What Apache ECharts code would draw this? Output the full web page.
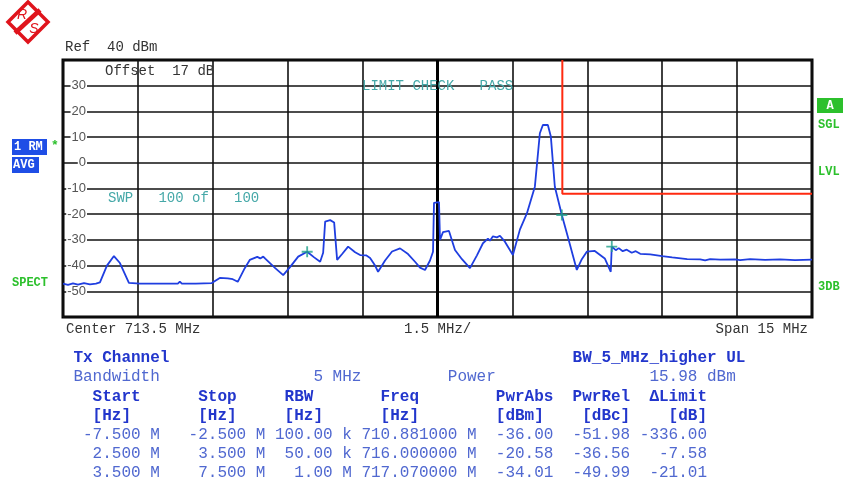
<!DOCTYPE html>
<html>
<head>
<meta charset="utf-8">
<script src="https://cdn.jsdelivr.net/npm/echarts@6/dist/echarts.min.js"></script>
<style>
  html, body { margin: 0; padding: 0; background: #fff; }
  #main { width: 845px; height: 484px; }
</style>
</head>
<body>
<div id="main"></div>
<script>
// trace: offset from center (MHz) and level (dBm)
const freqOffset = [
  -7.50, -7.40, -7.30, -7.20, -7.08, -6.96, -6.84, -6.76, -6.62, -6.48, -6.36, -6.18,
  -5.96, -5.76, -5.72, -5.68, -5.46, -5.42, -5.38, -5.20, -5.16, -5.12, -4.92, -4.88,
  -4.84, -4.52, -4.36, -4.20, -4.10, -4.00, -3.86, -3.76, -3.61, -3.55, -3.49, -3.45,
  -3.41, -3.25, -3.09, -2.95, -2.79, -2.61, -2.47, -2.35, -2.29, -2.25, -2.15, -2.07,
  -2.01, -1.91, -1.79, -1.65, -1.55, -1.43, -1.35, -1.25, -1.19, -1.05, -0.91, -0.75,
  -0.59, -0.45, -0.35, -0.25, -0.15, -0.09, -0.07, 0.03, 0.05, 0.11, 0.23, 0.35,
  0.49, 0.65, 0.79, 0.91, 1.01, 1.05, 1.11, 1.19, 1.25, 1.35, 1.51, 1.65,
  1.79, 1.95, 2.05, 2.11, 2.21, 2.27, 2.35, 2.49, 2.61, 2.71, 2.79, 2.89,
  2.99, 3.15, 3.35, 3.47, 3.49, 3.57, 3.63, 3.71, 3.79, 3.89, 3.97, 4.06,
  4.26, 4.50, 4.70, 5.00, 5.26, 5.36, 5.46, 5.66, 5.96, 6.06, 6.26, 6.56,
  6.86, 7.16, 7.50
]
const level = [
  -47.0, -47.5, -46.9, -47.4, -46.8, -47.3, -47.0, -46.5, -40.0, -36.3, -39.0, -46.7,
  -47.0, -47.0, -47.6, -47.0, -47.0, -47.6, -47.0, -47.0, -46.2, -47.0, -47.0, -47.5,
  -47.0, -46.8, -44.8, -45.0, -45.3, -46.3, -41.0, -37.8, -36.6, -37.2, -36.5, -37.3,
  -37.5, -41.0, -43.7, -40.5, -36.5, -34.6, -36.8, -38.5, -35.0, -22.9, -22.3, -23.2,
  -37.8, -35.5, -32.6, -34.8, -35.9, -36.0, -37.0, -40.0, -42.4, -38.0, -34.5, -33.3,
  -35.5, -38.5, -40.8, -41.7, -38.0, -34.6, -15.6, -15.3, -30.0, -27.0, -26.5, -33.9,
  -37.5, -41.0, -36.0, -31.3, -29.5, -30.3, -28.6, -29.0, -28.4, -30.7, -35.9, -26.0,
  -19.7, -9.3, 11.5, 14.7, 14.7, 10.2, -9.3, -20.3, -28.8, -36.0, -41.7, -37.5,
  -34.6, -34.3, -37.2, -42.4, -32.6, -34.0, -33.2, -34.4, -33.8, -35.0, -34.4, -35.4,
  -35.6, -36.3, -36.8, -37.5, -37.6, -38.0, -37.5, -37.7, -37.6, -37.9, -37.5, -37.8,
  -37.6, -37.9, -37.7
]

// markers (+)
const markerFreq = [-2.61, 2.49, 3.49]
const markerLevel = [-34.6, -20.3, -32.6]

// limit line
const limitFreq = [2.5, 2.5, 7.5]
const limitLevel = [40, -12, -12]

// table below the diagram
const tableStart = ['-7.500 M', '2.500 M', '3.500 M']
const tableStop = ['-2.500 M', '3.500 M', '7.500 M']
const tableRbw = ['100.00 k', '50.00 k', '1.00 M']
const tableFreq = ['710.881000 M', '716.000000 M', '717.070000 M']
const tablePwrAbs = ['-36.00', '-20.58', '-34.01']
const tablePwrRel = ['-51.98', '-36.56', '-49.99']
const tableLimit = ['-336.00', '-7.58', '-21.01']

const MONO = '"Liberation Mono", "DejaVu Sans Mono", monospace'
const CW = 9.6 // char width of 16px mono
const X0 = 83

function txt(x, y, s, fill, size, bold, align) {
  return {
    type: 'text',
    x: x,
    y: y,
    z: 10,
    style: {
      text: s,
      fill: fill,
      font: (bold ? 'bold ' : '') + size + 'px ' + MONO,
      textAlign: align || 'left',
      textVerticalAlign: 'middle',
      align: align || 'left',
      verticalAlign: 'middle'
    }
  }
}

function col(c) {
  return X0 + c * CW
}

let myChart = echarts.init(document.getElementById('main'))

const HEAD = '#2236cc'
const BODY = '#5068d0'
const TEAL = '#45a8a8'
const GREEN = '#2cc02c'
const RS_RED = '#e0141c'

let graphics = [
  // R&S logo
  {
    type: 'polygon',
    shape: { points: [[28, 2], [48, 22], [28, 42], [8, 22]] },
    style: { fill: '#fff', stroke: RS_RED, lineWidth: 3.5 }
  },
  {
    type: 'line',
    shape: { x1: 15, y1: 33, x2: 40, y2: 10 },
    style: { stroke: RS_RED, lineWidth: 4.5 }
  },
  {
    type: 'text', x: 22, y: 15,
    style: { text: 'R', fill: RS_RED, font: 'italic 14px "Liberation Sans", sans-serif', textAlign: 'center', textVerticalAlign: 'middle', align: 'center', verticalAlign: 'middle' }
  },
  {
    type: 'text', x: 34, y: 29,
    style: { text: 'S', fill: RS_RED, font: 'italic 14px "Liberation Sans", sans-serif', textAlign: 'center', textVerticalAlign: 'middle', align: 'center', verticalAlign: 'middle' }
  },

  txt(65, 47, 'Ref  40 dBm', '#333', 14),
  txt(105, 71, 'Offset  17 dB', '#333', 14),
  txt(362, 86, 'LIMIT CHECK   PASS', TEAL, 14),
  txt(108, 198, 'SWP   100 of   100', TEAL, 14),

  // left side trace info
  { type: 'rect', shape: { x: 12, y: 139, width: 35, height: 16 }, style: { fill: '#1f4ee6' } },
  txt(14, 147, '1 RM', '#fff', 12, true),
  { type: 'rect', shape: { x: 12, y: 157, width: 27, height: 16 }, style: { fill: '#1f4ee6' } },
  txt(13, 165, 'AVG', '#fff', 12, true),
  txt(51, 146, '*', GREEN, 13, true),
  txt(12, 283, 'SPECT', GREEN, 12, true),

  // right side
  { type: 'rect', shape: { x: 817, y: 98, width: 26, height: 15 }, style: { fill: GREEN } },
  txt(830, 106, 'A', '#fff', 12, true, 'center'),
  txt(818, 125, 'SGL', GREEN, 12, true),
  txt(818, 172, 'LVL', GREEN, 12, true),
  txt(818, 287, '3DB', GREEN, 12, true),

  // under the diagram
  txt(66, 329, 'Center 713.5 MHz', '#333', 14),
  txt(404, 329, '1.5 MHz/', '#333', 14),
  txt(808, 329, 'Span 15 MHz', '#333', 14, false, 'right'),

  // table
  txt(col(-1), 358, 'Tx Channel', HEAD, 16, true),
  txt(col(51), 358, 'BW_5_MHz_higher UL', HEAD, 16, true),
  txt(col(-1), 377, 'Bandwidth', BODY, 16),
  txt(col(24), 377, '5 MHz', BODY, 16),
  txt(col(38), 377, 'Power', BODY, 16),
  txt(col(59), 377, '15.98 dBm', BODY, 16),

  txt(col(1), 397, 'Start', HEAD, 16, true),
  txt(col(12), 397, 'Stop', HEAD, 16, true),
  txt(col(21), 397, 'RBW', HEAD, 16, true),
  txt(col(31), 397, 'Freq', HEAD, 16, true),
  txt(col(43), 397, 'PwrAbs', HEAD, 16, true),
  txt(col(51), 397, 'PwrRel', HEAD, 16, true),
  txt(col(59), 397, '\u0394Limit', HEAD, 16, true),

  txt(col(1), 416, '[Hz]', HEAD, 16, true),
  txt(col(12), 416, '[Hz]', HEAD, 16, true),
  txt(col(21), 416, '[Hz]', HEAD, 16, true),
  txt(col(31), 416, '[Hz]', HEAD, 16, true),
  txt(col(43), 416, '[dBm]', HEAD, 16, true),
  txt(col(52), 416, '[dBc]', HEAD, 16, true),
  txt(col(61), 416, '[dB]', HEAD, 16, true)
]

// data rows, right aligned columns
for (let i = 0; i < tableStart.length; i++) {
  let y = 435 + i * 19
  graphics.push(txt(col(8), y, tableStart[i], BODY, 16, false, 'right'))
  graphics.push(txt(col(19), y, tableStop[i], BODY, 16, false, 'right'))
  graphics.push(txt(col(28), y, tableRbw[i], BODY, 16, false, 'right'))
  graphics.push(txt(col(41), y, tableFreq[i], BODY, 16, false, 'right'))
  graphics.push(txt(col(49), y, tablePwrAbs[i], BODY, 16, false, 'right'))
  graphics.push(txt(col(57), y, tablePwrRel[i], BODY, 16, false, 'right'))
  graphics.push(txt(col(65), y, tableLimit[i], BODY, 16, false, 'right'))
}

let option = {
  animation: false,
  backgroundColor: '#fff',
  grid: {
    left: 63,
    right: 33,
    top: 60,
    height: 257,
    show: true,
    borderColor: '#000',
    borderWidth: 3
  },
  xAxis: {
    type: 'value',
    min: -7.5,
    max: 7.5,
    interval: 1.5,
    axisLine: { show: false },
    axisTick: { show: false },
    axisLabel: { show: false },
    splitLine: { show: true, lineStyle: { color: '#111', width: 1.6 } }
  },
  yAxis: {
    type: 'value',
    min: -60,
    max: 40,
    interval: 10,
    axisLine: { show: false },
    axisTick: { show: false },
    axisLabel: {
      inside: true,
      align: 'right',
      margin: 24,
      color: '#555',
      fontFamily: '"Liberation Sans", sans-serif',
      fontSize: 13,
      backgroundColor: '#fff',
      padding: [0, 1],
      formatter: function (v) {
        return v === 40 || v === -60 ? '' : String(v)
      }
    },
    splitLine: { show: true, lineStyle: { color: '#111', width: 1.6 } }
  },
  series: [
    {
      name: 'trace',
      type: 'line',
      data: freqOffset.map((f, i) => [f, level[i]]),
      symbol: 'none',
      lineStyle: { color: '#1f3ee0', width: 1.8 },
      z: 4,
      markLine: {
        silent: true,
        symbol: 'none',
        label: { show: false },
        lineStyle: { color: '#000', width: 3, type: 'solid' },
        data: [{ xAxis: 0 }],
        z: 1
      }
    },
    {
      name: 'limit',
      type: 'line',
      data: limitFreq.map((f, i) => [f, limitLevel[i]]),
      symbol: 'none',
      lineStyle: { color: '#ff2a10', width: 2 },
      z: 3
    },
    {
      name: 'marker',
      type: 'scatter',
      data: markerFreq.map((f, i) => [f, markerLevel[i]]),
      symbol: 'path://M5,0H7V5H12V7H7V12H5V7H0V5H5Z',
      symbolSize: 11,
      itemStyle: { color: '#1fa08a' },
      z: 5
    }
  ],
  graphic: graphics
}

myChart.setOption(option)
</script>
</body>
</html>
